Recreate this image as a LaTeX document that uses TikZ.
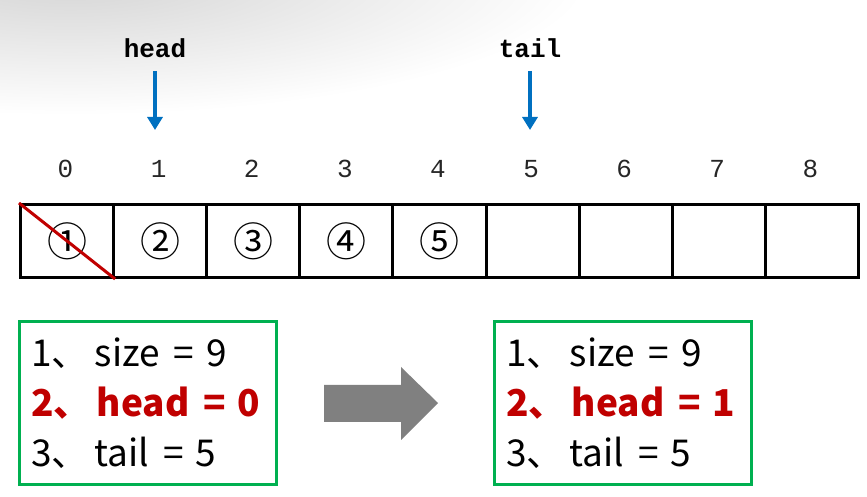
\documentclass[tikz,border=0pt]{standalone}
\usepackage{fontspec}
\newfontfamily\cjk{Noto Sans CJK SC}
\newfontfamily\monof{Liberation Mono}
\usetikzlibrary{arrows.meta}
\definecolor{qblue}{HTML}{0070C0}
\definecolor{qred}{HTML}{C00000}
\definecolor{qgreen}{HTML}{00B050}
\definecolor{qgray}{HTML}{808080}
\newcommand{\qa}{\hspace{6pt}}
\newcommand{\qb}{\hspace{14pt}}
\newcommand{\qc}{\hspace{12pt}}
\begin{document}
\begin{tikzpicture}[x=1pt,y=1pt,
  cell/.style={draw=black,line width=3pt,minimum width=93.1pt,minimum height=73pt,inner sep=0pt,anchor=south west,font=\cjk\fontsize{40}{40}\selectfont},
  idx/.style={font=\monof\fontsize{26}{26}\selectfont,text=black!85,inner sep=0pt},
  ptrlbl/.style={font=\monof\bfseries\fontsize{26}{26}\selectfont,inner sep=0pt},
  ptr/.style={draw=qblue,line width=3.5pt,-{Triangle[width=15pt,length=13pt]}},
  greenbox/.style={draw=qgreen,line width=3pt,minimum width=257pt,minimum height=163pt,inner sep=0pt},
  txt/.style={font=\cjk\fontsize{37}{37}\selectfont,anchor=west,inner sep=0pt},
  redtxt/.style={txt,text=qred,font=\cjk\bfseries\fontsize{37}{37}\selectfont},
]
\useasboundingbox (0,0) rectangle (867,497);
\begin{scope}
  \clip (0,0) rectangle (867,497);
  \shade[inner color=black!17,outer color=white] (70,522) ellipse [x radius=520, y radius=140];
\end{scope}
% array cells
\foreach \i/\t in {0/①,1/②,2/③,3/④,4/⑤,5/{},6/{},7/{},8/{}}{
  \node[cell] (c\i) at ({19+93.1*\i},218) {\t};
  \node[idx] (i\i) at ({19+93.1*\i+46.55},328) {\i};
}
\draw[qred,line width=3pt] (c0.north west) -- (c0.south east);
% pointers
\node[ptrlbl] (hd) at (155,449) {head};
\node[ptrlbl] (tl) at (530,449) {tail};
\coordinate (hp) at (155,367);
\coordinate (tp) at (530,367);
\draw[ptr] (155,426) -- (hp);
\draw[ptr] (530,426) -- (tp);
% boxes
\node[greenbox] (lbox) at (147.5,93.5) {};
\node[greenbox] (rbox) at (622.5,93.5) {};
\node[txt] (l1) at (31,144) {1、\qa size\qb=\qc 9};
\node[redtxt] (l2) at (31,94) {2、\qa head\qb=\qc 0};
\node[txt] (l3) at (31,44) {3、\qa tail\qb=\qc 5};
\node[txt] (r1) at (506,144) {1、\qa size\qb=\qc 9};
\node[redtxt] (r2) at (506,94) {2、\qa head\qb=\qc 1};
\node[txt] (r3) at (506,44) {3、\qa tail\qb=\qc 5};
% big arrow
\fill[qgray] (324,112) -- (401,112) -- (401,130) -- (438,94) -- (401,57) -- (401,75) -- (324,75) -- cycle;
\end{tikzpicture}
\end{document}
